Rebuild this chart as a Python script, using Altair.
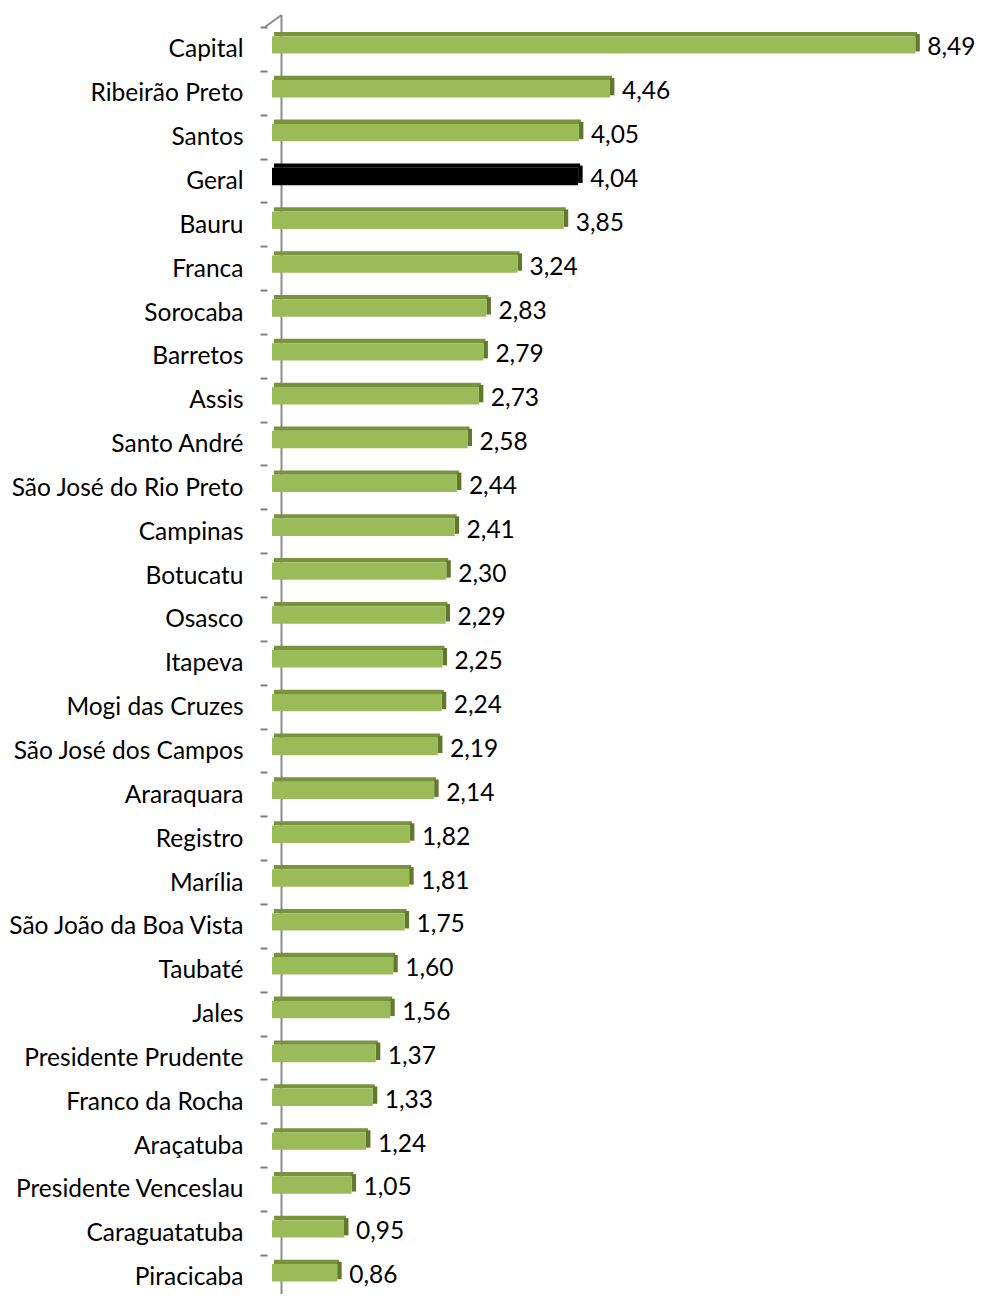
import altair as alt
import pandas as pd

categories = ["Capital", "Ribeirão Preto", "Santos", "Geral", "Bauru", "Franca",
              "Sorocaba", "Barretos", "Assis", "Santo André", "São José do Rio Preto",
              "Campinas", "Botucatu", "Osasco", "Itapeva", "Mogi das Cruzes",
              "São José dos Campos", "Araraquara", "Registro", "Marília",
              "São João da Boa Vista", "Taubaté", "Jales", "Presidente Prudente",
              "Franco da Rocha", "Araçatuba", "Presidente Venceslau", "Caraguatatuba",
              "Piracicaba"]
values = [8.49, 4.46, 4.05, 4.04, 3.85, 3.24, 2.83, 2.79, 2.73, 2.58, 2.44, 2.41,
          2.30, 2.29, 2.25, 2.24, 2.19, 2.14, 1.82, 1.81, 1.75, 1.60, 1.56, 1.37,
          1.33, 1.24, 1.05, 0.95, 0.86]
highlight = "Geral"

FONT = "Lato"
FS = 24.5
W = 685
H_FULL = 1271.6   # full band range (29 rows)
H = 1267          # visible plot height

df = pd.DataFrame({"cat": categories, "v": values})

is_hl = alt.datum.cat == highlight

base = alt.Chart(df).transform_calculate(
    lab="replace(format(datum.v, '.2f'), '.', ',')"
).encode(
    y=alt.Y("cat:N", sort=categories,
            scale=alt.Scale(paddingInner=0, paddingOuter=0, range=[0, H_FULL]),
            axis=alt.Axis(title=None, domain=False, tickBand="extent", tickSize=7,
                          tickColor="#808080", tickWidth=2, offset=5,
                          labelPadding=17, labelFont=FONT, labelFontSize=FS,
                          labelLimit=400, labelColor="black", labelOffset=1)),
)

xenc = alt.X("v:Q", scale=alt.Scale(domain=[0, 9.04], nice=False, zero=True), axis=None)

top = base.mark_bar(size=4.3, yOffset=-14.85, xOffset=2, x2Offset=2).encode(
    x=xenc,
    color=alt.condition(is_hl, alt.value("#000000"), alt.value("#77933c")),
)
front = base.mark_bar(size=17.4, yOffset=-4).encode(
    x=xenc,
    color=alt.condition(is_hl, alt.value("#000000"), alt.value("#9bbb59")),
)
side = base.mark_bar(size=17.4, yOffset=-6.15, x2Offset=4.5).encode(
    x=xenc, x2="v:Q",
    color=alt.condition(is_hl, alt.value("#000000"), alt.value("#62792d")),
)
text = base.mark_text(align="left", baseline="middle", dx=12, dy=-0.5,
                      font=FONT, fontSize=FS, color="black").encode(
    x=xenc, text="lab:N"
)

deco = pd.DataFrame({"k": [0]})
wall = alt.Chart(deco).mark_rule(color="#8c8c8c", strokeWidth=2).encode(
    x=alt.value(9.5), y=alt.value(-12), y2=alt.value(1268))
diag_top = alt.Chart(deco).mark_rule(color="#8c8c8c", strokeWidth=2).encode(
    x=alt.value(-7), x2=alt.value(9.5), y=alt.value(0), y2=alt.value(-12))

chart = alt.layer(wall, diag_top, top, side, front, text).properties(
    width=W, height=H,
    background="white",
    autosize=alt.AutoSizeParams(type="none"),
    padding={"left": 264, "top": 19, "right": 18, "bottom": 0},
).configure_view(stroke=None)

chart.save("out.html", embed_options={"renderer": "svg", "actions": False})
